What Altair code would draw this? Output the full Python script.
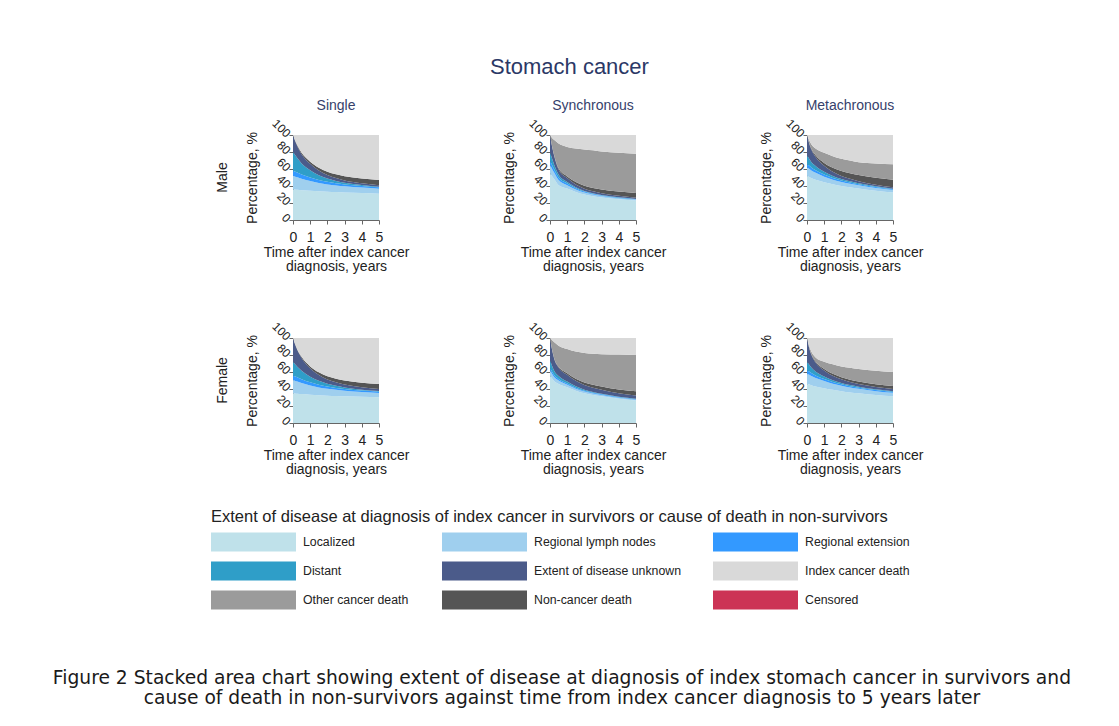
import altair as alt
import pandas as pd

TIME = [0, 0.1, 0.25, 0.5, 1, 1.5, 2, 2.5, 3, 4, 5]

SEXES = ["Male", "Female"]
TYPES = ["Single", "Synchronous", "Metachronous"]

STACK_ORDER = ["Localized", "Regional lymph nodes", "Regional extension", "Distant",
               "Extent of disease unknown", "Non-cancer death", "Other cancer death",
               "Index cancer death"]

LEGEND_NAMES = ["Localized", "Regional lymph nodes", "Regional extension",
                "Distant", "Extent of disease unknown", "Index cancer death",
                "Other cancer death", "Non-cancer death", "Censored"]
LEGEND_COLORS = ["#bfe1ea", "#9fcfee", "#3399ff",
                 "#2f9ec8", "#4b5b8a", "#d9d9d9",
                 "#9b9b9b", "#555555", "#cc3355"]

TITLE = "Stomach cancer"
LEGEND_TITLE = "Extent of disease at diagnosis of index cancer in survivors or cause of death in non-survivors"
CAPTION = ["Figure 2 Stacked area chart showing extent of disease at diagnosis of index stomach cancer in survivors and",
           "cause of death in non-survivors against time from index cancer diagnosis to 5 years later"]
X_TITLE = ["Time after index cancer", "diagnosis, years"]
Y_TITLE = "Percentage, %"

# ---- Male, Single ----
MS_LOC = [36, 35.8, 35.5, 35, 34.4, 33.8, 33.3, 32.8, 32.4, 31.7, 31]
MS_LYM = [16, 15.5, 14.8, 13.5, 11.5, 9.8, 8.6, 7.8, 7.2, 6.4, 5.8]
MS_EXT = [6, 5.8, 5.5, 5, 4.2, 3.5, 3, 2.6, 2.3, 1.9, 1.6]
MS_DIS = [22, 20, 17, 13, 8.5, 5.5, 3.8, 2.8, 2, 1.2, 0.8]
MS_UNK = [20, 17, 14, 11, 7.5, 5.5, 4.2, 3.3, 2.7, 2.1, 1.8]
MS_NCD = [0, 0.5, 1, 1.5, 2.5, 3.5, 4, 4.5, 5, 5.5, 6]
MS_OCD = [0, 0, 0, 0, 0, 0, 0, 0, 0, 0, 0]
MS_ICD = [0, 5.4, 12.2, 21, 31.4, 38.4, 43.1, 46.2, 48.4, 51.2, 53]

# ---- Female, Single ----
FS_LOC = [35, 34.8, 34.5, 34, 33.3, 32.7, 32.2, 31.8, 31.4, 30.8, 30.3]
FS_LYM = [15.5, 15, 14.3, 13, 10.8, 9.2, 8, 7.2, 6.6, 5.6, 5]
FS_EXT = [5.5, 5.3, 5, 4.6, 3.8, 3.2, 2.7, 2.3, 2, 1.7, 1.5]
FS_DIS = [16, 14.5, 12.5, 10, 6.5, 4.5, 3.2, 2.4, 1.8, 1.1, 0.8]
FS_UNK = [28, 24, 19.5, 15, 10, 7, 5.2, 4.2, 3.5, 2.8, 2.4]
FS_NCD = [0, 0.4, 0.8, 1.3, 2.2, 3, 3.6, 4.1, 4.6, 5.3, 6]
FS_OCD = [0, 0, 0, 0, 0, 0, 0, 0, 0, 0, 0]
FS_ICD = [0, 6, 13.4, 22.1, 33.4, 40.4, 45.1, 48, 50.1, 52.7, 54]

# ---- Male, Synchronous ----
MY_LOC = [55, 52, 48, 41, 37, 33, 30, 28, 26.5, 24.5, 23]
MY_LYM = [10, 9, 7.5, 6, 4, 3, 2.3, 1.9, 1.6, 1.2, 1]
MY_EXT = [5, 4.5, 3.8, 3, 2, 1.5, 1.1, 0.9, 0.8, 0.6, 0.5]
MY_DIS = [10, 8, 5.5, 3.5, 1.8, 1.1, 0.8, 0.6, 0.5, 0.4, 0.3]
MY_UNK = [20, 15, 10, 6, 4.5, 3.3, 2.7, 2.3, 2, 1.7, 1.5]
MY_NCD = [0, 0.4, 0.8, 1.3, 2, 2.8, 3.4, 3.9, 4.4, 5, 5.5]
MY_OCD = [0, 8.1, 18.4, 29.2, 34.7, 39.3, 42.7, 44.4, 44.7, 45.6, 46.2]
MY_ICD = [0, 3, 6, 10, 14, 16, 17, 18, 19.5, 21, 22]

# ---- Female, Synchronous ----
FY_LOC = [56, 53, 49, 46, 42, 38, 35, 33, 31.5, 28.5, 26.5]
FY_LYM = [6, 5.5, 4.8, 4, 3, 2.4, 2, 1.7, 1.5, 1.2, 1]
FY_EXT = [3, 2.7, 2.3, 1.9, 1.4, 1.1, 0.9, 0.8, 0.7, 0.6, 0.5]
FY_DIS = [9, 7, 5, 3.5, 2.3, 1.6, 1.2, 1, 0.8, 0.6, 0.5]
FY_UNK = [26, 20, 14, 10, 8, 6.5, 5.5, 5, 4.5, 4, 4]
FY_NCD = [0, 0.3, 0.6, 1, 1.8, 2.5, 3, 3.5, 4, 4.5, 5]
FY_OCD = [0, 9.5, 19.3, 24.6, 28.5, 31.9, 34.9, 36.5, 38, 41.1, 42.5]
FY_ICD = [0, 2, 5, 9, 13, 16, 17.5, 18.5, 19, 19.5, 20]

# ---- Male, Metachronous ----
MM_LOC = [52, 51, 49.5, 47.5, 44.5, 42, 40, 38.5, 37, 34.5, 32.5]
MM_LYM = [10, 9.5, 8.8, 8, 6.5, 5.5, 4.8, 4.2, 3.8, 3.2, 2.8]
MM_EXT = [4, 3.8, 3.5, 3.1, 2.5, 2, 1.7, 1.5, 1.3, 1.1, 1]
MM_DIS = [10, 8.5, 6.5, 5, 3.2, 2.2, 1.6, 1.3, 1, 0.8, 0.6]
MM_UNK = [24, 19, 14.5, 10.5, 7, 5, 3.8, 3, 2.5, 2, 1.6]
MM_NCD = [0, 0.6, 1.2, 2, 3.5, 4.8, 5.8, 6.6, 7.3, 8.2, 9]
MM_OCD = [0, 2.6, 5, 7.9, 11.8, 13.5, 14.3, 14.9, 15.1, 16.7, 18]
MM_ICD = [0, 5, 11, 16, 21, 25, 28, 30, 32, 33.5, 34.5]

# ---- Female, Metachronous ----
FM_LOC = [46, 45.5, 44.5, 43, 41, 39, 37.5, 36, 35, 33, 31.5]
FM_LYM = [12, 11.5, 10.8, 9.8, 8.3, 7.2, 6.3, 5.7, 5.2, 4.5, 4]
FM_EXT = [4, 3.8, 3.5, 3.1, 2.5, 2.1, 1.8, 1.6, 1.4, 1.2, 1.1]
FM_DIS = [10, 8.5, 6.5, 4.8, 3, 2.1, 1.6, 1.3, 1.1, 0.9, 0.8]
FM_UNK = [28, 21, 15, 10.5, 7, 5.2, 4.2, 3.6, 3.2, 2.8, 2.6]
FM_NCD = [0, 0.4, 0.8, 1.2, 1.8, 2.2, 2.5, 2.7, 2.9, 3.2, 3.5]
FM_OCD = [0, 1.3, 2.9, 4.6, 8.4, 11.2, 12.6, 14.1, 14.7, 15.9, 16.5]
FM_ICD = [0, 8, 16, 23, 28, 31, 33.5, 35, 36.5, 38.5, 40]

PANELS = {
    ("Male", "Single"): [MS_LOC, MS_LYM, MS_EXT, MS_DIS, MS_UNK, MS_NCD, MS_OCD, MS_ICD],
    ("Female", "Single"): [FS_LOC, FS_LYM, FS_EXT, FS_DIS, FS_UNK, FS_NCD, FS_OCD, FS_ICD],
    ("Male", "Synchronous"): [MY_LOC, MY_LYM, MY_EXT, MY_DIS, MY_UNK, MY_NCD, MY_OCD, MY_ICD],
    ("Female", "Synchronous"): [FY_LOC, FY_LYM, FY_EXT, FY_DIS, FY_UNK, FY_NCD, FY_OCD, FY_ICD],
    ("Male", "Metachronous"): [MM_LOC, MM_LYM, MM_EXT, MM_DIS, MM_UNK, MM_NCD, MM_OCD, MM_ICD],
    ("Female", "Metachronous"): [FM_LOC, FM_LYM, FM_EXT, FM_DIS, FM_UNK, FM_NCD, FM_OCD, FM_ICD],
}

rows = []
for (sex, typ), series in PANELS.items():
    for rank, (cat, vals) in enumerate(zip(STACK_ORDER, series)):
        for t, v in zip(TIME, vals):
            rows.append({"sex": sex, "type": typ, "category": cat, "rank": rank, "t": t, "value": v})
df = pd.DataFrame(rows)

FONT = "Liberation Sans"
AX_COLOR = "#666666"
TXT = "#222222"

color_scale = alt.Scale(domain=LEGEND_NAMES, range=LEGEND_COLORS)

base = alt.Chart(df).mark_area(interpolate="monotone").encode(
    x=alt.X("t:Q", scale=alt.Scale(domain=[0, 5], nice=False),
            axis=alt.Axis(values=[0, 1, 2, 3, 4, 5], format="d", grid=False, labelFlush=False,
                          labelOverlap=False, labelFontSize=14, labelColor=TXT, labelPadding=6,
                          tickSize=4, tickColor=AX_COLOR, domainColor=AX_COLOR,
                          title=X_TITLE, titleFontSize=14, titleFontWeight="normal",
                          titleColor=TXT, titleLineHeight=14, titlePadding=1)),
    y=alt.Y("value:Q", stack="zero", scale=alt.Scale(domain=[0, 100], nice=False),
            axis=alt.Axis(values=[0, 20, 40, 60, 80, 100], grid=False, labelFlush=False,
                          labelOverlap=False, labelAngle=45, labelAlign="right",
                          labelBaseline="middle", labelFontSize=12, labelColor=TXT,
                          labelPadding=1, tickSize=4, tickColor=AX_COLOR, domainColor=AX_COLOR,
                          title=Y_TITLE, titleFontSize=14, titleFontWeight="normal",
                          titleColor=TXT, titlePadding=10)),
    color=alt.Color("category:N", scale=color_scale, legend=None),
    order=alt.Order("rank:Q", sort="ascending"),
).properties(width=86, height=85)

facet = base.facet(
    row=alt.Row("sex:N", sort=SEXES,
                header=alt.Header(title=None, labelFontSize=14, labelColor=TXT, labelFont=FONT,
                                  labelAngle=-90, labelPadding=8)),
    column=alt.Column("type:N", sort=TYPES,
                      header=alt.Header(title=None, labelFontSize=14, labelColor="#36416b",
                                        labelFont=FONT, labelPadding=3)),
    spacing={"row": 46, "column": 93},
    title=alt.TitleParams(TITLE, fontSize=22, font=FONT, fontWeight="normal",
                          color="#2b3866", anchor="middle", offset=20),
).resolve_axis(x="independent", y="independent")

leg_df = pd.DataFrame({
    "name": LEGEND_NAMES,
    "col": [i % 3 for i in range(len(LEGEND_NAMES))],
    "row": [i // 3 for i in range(len(LEGEND_NAMES))],
})
xs = alt.Scale(domain=[0, 1, 2], range=[-82, 149, 420])
ys = alt.Scale(domain=[0, 2], range=[0, 58])

swatches = alt.Chart(leg_df).mark_rect(x2Offset=85, yOffset=-9.5, y2Offset=9.5).encode(
    x=alt.X("col:Q", scale=xs, axis=None),
    x2=alt.X2("col"),
    y=alt.Y("row:Q", scale=ys, axis=None),
    y2=alt.Y2("row"),
    color=alt.Color("name:N", scale=color_scale, legend=None),
)
labels = alt.Chart(leg_df).mark_text(align="left", baseline="middle", dx=92, fontSize=12.3,
                                     font=FONT, color=TXT).encode(
    x=alt.X("col:Q", scale=xs, axis=None),
    y=alt.Y("row:Q", scale=ys, axis=None),
    text="name:N",
)
legend = alt.layer(swatches, labels).properties(
    width=600, height=58,
    title=alt.TitleParams(LEGEND_TITLE, anchor="start", fontSize=16.5, font=FONT,
                          fontWeight="normal", color=TXT, offset=7),
)

chart = alt.vconcat(
    facet, legend, spacing=33,
    title=alt.TitleParams(CAPTION, orient="bottom", anchor="middle", font="DejaVu Sans",
                          fontSize=18.7, fontWeight="normal", color="#1a1a1a",
                          lineHeight=20, offset=59, dx=-5),
).properties(
    padding={"left": 44, "top": 48, "right": 5, "bottom": 5},
).configure(font=FONT).configure_view(stroke=None)

chart.save("out.html", embed_options={"renderer": "svg", "actions": False})
